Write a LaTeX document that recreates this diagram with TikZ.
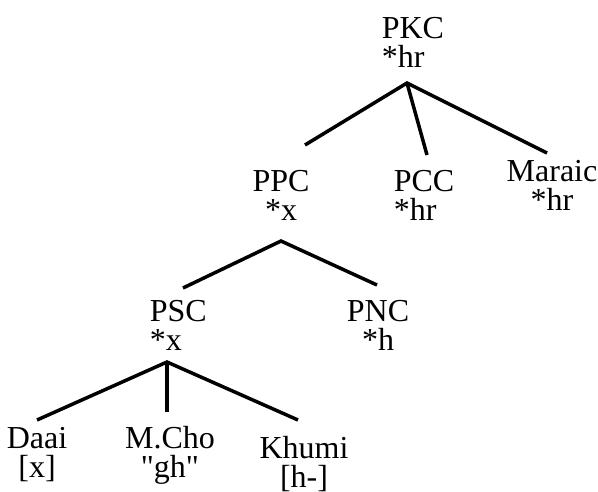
\documentclass[tikz,border=0pt]{standalone}
\usepackage{fontspec}
\setmainfont{Liberation Serif}

\begin{document}
\begin{tikzpicture}[x=1pt, y=-1pt, line width=3.5pt,
    lang/.style={font=\fontsize{32}{29}\selectfont, inner sep=0pt, anchor=base, align=center}]
    \useasboundingbox (0,0) rectangle (598,491);
    % proto-languages and languages (placed at the baseline of the lower line)
    \node[lang, align=left, anchor=base west] (PKC) at (380,67) {PKC\\*hr};
    \node[lang] (PPC) at (281,220) {PPC\\*x};
    \node[lang, align=left, anchor=base west] (PCC) at (392,220) {PCC\\*hr};
    \node[lang] (Maraic) at (552,210) {Maraic\\*hr};
    \node[lang, align=left, anchor=base west] (PSC) at (148,350) {PSC\\*x};
    \node[lang] (PNC) at (378,350) {PNC\\*h};
    \node[lang] (Daai) at (37,477) {Daai\\{}[x]};
    \node[lang] (MCho) at (170,477) {M.Cho\\\textquotedbl gh\textquotedbl};
    \node[lang] (Khumi) at (304,487) {Khumi\\{}[h-]};
    % branching points and branch ends
    \coordinate (K0) at (407,83);
    \coordinate (P0) at (281,241);
    \coordinate (S0) at (167,362);
    \coordinate (PPCt) at (305,145);
    \coordinate (PCCt) at (427,155);
    \coordinate (Mt) at (547,153);
    \coordinate (PSCt) at (183,288);
    \coordinate (PNCt) at (377,285);
    \coordinate (Dt) at (37,420);
    \coordinate (Ct) at (167,412);
    \coordinate (Kt) at (298,420);
    % branches
    \draw (PPCt) -- (K0) -- (Mt);
    \draw (K0) -- (PCCt);
    \draw (PSCt) -- (P0) -- (PNCt);
    \draw (Dt) -- (S0) -- (Kt);
    \draw (S0) -- (Ct);
\end{tikzpicture}
\end{document}
